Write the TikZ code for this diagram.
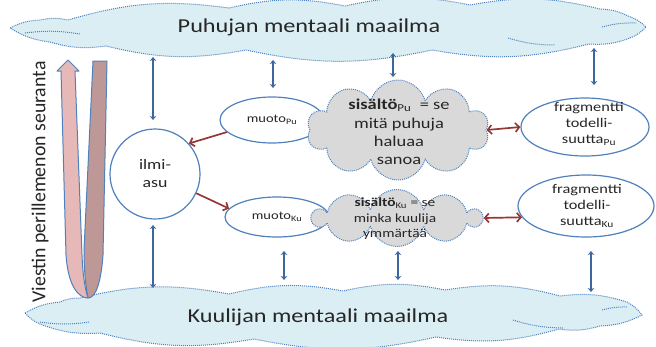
\documentclass[tikz,border=0pt]{standalone}
\usepackage{fontspec}
\setmainfont{Carlito}[FakeStretch=1.23]
\newfontfamily\upfont{Carlito}
\usetikzlibrary{shapes.geometric,shapes.symbols,arrows.meta}
\definecolor{lineblue}{RGB}{79,129,189}
\definecolor{arrowblue}{RGB}{62,102,158}
\definecolor{darkred}{RGB}{149,55,53}
\definecolor{skyfill}{RGB}{219,238,244}
\definecolor{greyfill}{RGB}{217,217,217}
\definecolor{armlight}{RGB}{230,185,184}
\definecolor{armdark}{RGB}{190,152,150}
\definecolor{ink}{RGB}{38,38,38}
\begin{document}
\begin{tikzpicture}[x=1pt,y=-1pt,
  world/.style={draw=lineblue, densely dotted, line width=1pt, fill=skyfill},
  fold/.style={draw=lineblue, densely dotted, line width=1pt},
  idea/.style={cloud, cloud puffs=10, draw=lineblue, densely dotted, line width=1pt, fill=greyfill},
  oval/.style={ellipse, draw=lineblue, line width=1.2pt, fill=white, inner sep=0pt, text=ink},
  label/.style={text=ink, align=center, inner sep=0pt},
  vlink/.style={arrowblue, line width=2.4pt, {Stealth[length=4pt,width=6.5pt]}-{Stealth[length=4pt,width=6.5pt]}},
  rlink/.style={darkred, line width=1.7pt, -{Straight Barb[length=4pt,width=9pt]}},
  rboth/.style={darkred, line width=1.7pt, {Straight Barb[length=4pt,width=9pt]}-{Straight Barb[length=4pt,width=9pt]}},
  uarm/.style={draw=lineblue, line width=1pt, line join=round}]
\useasboundingbox (0,0) rectangle (656,346);
% mental worlds
\path[world] (10,28) to[bend left=12] (40,20) to[bend left=12] (68,20) to[bend left=12] (229,8)
  to[bend left=12] (345,6) to[bend left=12] (470,5) to[bend left=12] (600,9) to[bend left=12] (628,16)
  to[bend left=12] (646,27) to[bend left=12] (630,38) to[bend left=12] (589,44) to[bend left=12] (432,50)
  to[bend left=12] (246,50) to[bend left=12] (106,46) to[bend left=12] (50,42) to[bend left=12] (10,28) -- cycle;
\draw[fold] (25,33) to[bend left=8] (80,34);
\draw[fold] (508,38) to[bend right=8] (555,45);
\draw[fold] (602,27) to[bend left=8] (636,23);
\node[label, font=\fontsize{19.7}{24}\selectfont] (ptoptxt) at (309,27){Puhujan mentaali maailma};
\path[world] (25,313) to[bend left=12] (60,302) to[bend left=12] (80,298) to[bend left=12] (229,294)
  to[bend left=12] (343,291) to[bend left=12] (445,290) to[bend left=12] (560,296) to[bend left=12] (627,302)
  to[bend left=12] (642,315) to[bend left=12] (600,326) to[bend left=12] (559,329) to[bend left=12] (436,337)
  to[bend left=12] (254,339) to[bend left=12] (100,333) to[bend left=12] (40,324) to[bend left=12] (25,313) -- cycle;
\draw[fold] (40,322) to[bend right=8] (89,322);
\draw[fold] (513,320) to[bend right=8] (563,328);
\draw[fold] (602,310) to[bend left=8] (627,307);
\node[label, font=\fontsize{19.7}{24}\selectfont] (kbottxt) at (318,317){Kuulijan mentaali maailma};
% follow-up arrow
\filldraw[uarm, fill=armdark] (93,61) -- (107,61) -- (103,255) .. controls (101,282) and (96,298) .. (88,298) .. controls (86,288) and (84,272) .. (84,250) -- cycle;
\filldraw[uarm, fill=armlight] (68,60) -- (79,71) -- (75,71) -- (82,255) .. controls (83,280) and (86,292) .. (88,298) .. controls (78,298) and (68,285) .. (66,255) -- (61,71) -- (57,71) -- cycle;
\node[label, rotate=90, font=\upfont\fontsize{19.8}{24}\selectfont] (track) at (40,182){Viestin perillemenon seuranta};
% forms and contents
\node[oval, minimum size=90pt, circle, font=\fontsize{14.5}{18}\selectfont, align=center] (ilmi) at (155,174){ilmi-\\asu};
\node[oval, minimum width=104pt, minimum height=46pt, font=\fontsize{11.8}{14}\selectfont] (mpu) at (272,120){muoto\textsubscript{Pu}};
\node[oval, minimum width=104pt, minimum height=40pt, font=\fontsize{11.8}{14}\selectfont] (mku) at (277,217){muoto\textsubscript{Ku}};
\node[idea, minimum width=182pt, minimum height=100pt] (cpu) at (398,130){};
\node[label, font=\fontsize{15}{18.3}\selectfont] (cputxt) at (399,132){\textbf{sisältö}\textsubscript{Pu} \;= se\\mitä puhuja\\haluaa\\sanoa};
\node[idea, minimum width=168pt, minimum height=57pt] (cku) at (397,218){};
\node[label, font=\fontsize{12.5}{15.5}\selectfont] (ckutxt) at (395,219){\textbf{sisältö}\textsubscript{Ku} = se\\minka kuulija\\ymmärtää};
\node[oval, minimum width=128pt, minimum height=58pt] (fpu) at (585,127){};
\node[label, font=\fontsize{13.3}{16}\selectfont] (fputxt) at (589,124){fragmentti\\todelli-\\suutta\textsubscript{Pu}};
\node[oval, minimum width=136pt, minimum height=62pt] (fku) at (586,206){};
\node[label, font=\fontsize{13.3}{16}\selectfont] (fkutxt) at (587,206){fragmentti\\todelli-\\suutta\textsubscript{Ku}};
% links to the worlds
\coordinate (pa1) at (153,57);
\coordinate (pb1) at (153,120);
\coordinate (pa2) at (273,60);
\coordinate (pb2) at (273,88);
\coordinate (pa3) at (393,53);
\coordinate (pb3) at (393,77);
\coordinate (pa4) at (594,48);
\coordinate (pb4) at (594,85);
\coordinate (ka1) at (153,225);
\coordinate (kb1) at (153,288);
\coordinate (ka2) at (284,251);
\coordinate (kb2) at (284,280);
\coordinate (ka3) at (398,251);
\coordinate (kb3) at (398,280);
\coordinate (ka4) at (591,251);
\coordinate (kb4) at (591,292);
\foreach \i in {1,...,4}{
  \draw[vlink](pa\i) -- (pb\i);
  \draw[vlink](ka\i) -- (kb\i);
}
% red links
\draw[rlink](mpu.195) -- (ilmi.42);
\draw[rlink](ilmi.-25) -- (mku.170);
\draw[rboth](cpu.east) -- (fpu.west);
\draw[rboth](cku.east) -- (fku.190);
\end{tikzpicture}
\end{document}
